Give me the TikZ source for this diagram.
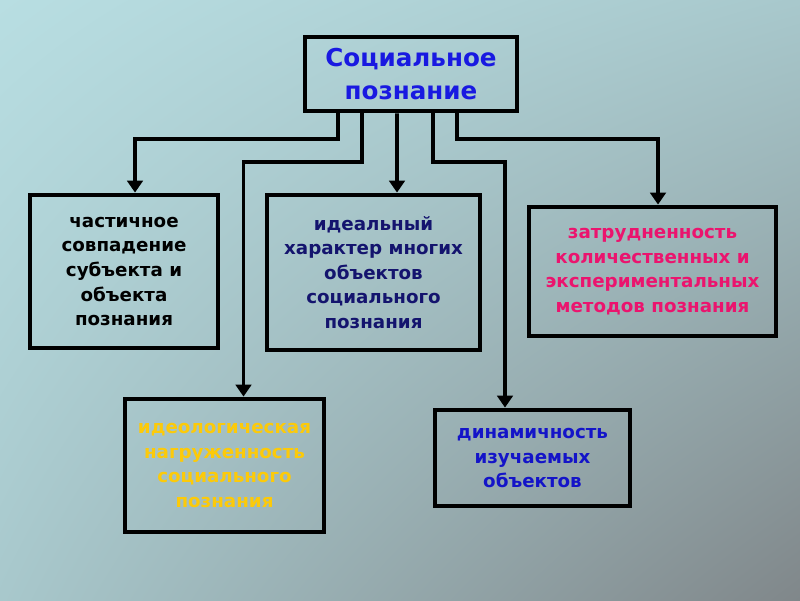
\documentclass[tikz,border=0pt]{standalone}
\usepackage{fontspec}
\setmainfont{DejaVu Sans}
\usetikzlibrary{arrows.meta,shadings}
\definecolor{bgtop}{RGB}{184,222,226}
\definecolor{bgmid}{RGB}{168,200,204}
\definecolor{bgbot}{RGB}{128,135,138}
\definecolor{titleblue}{RGB}{25,25,225}
\definecolor{navy}{RGB}{20,20,110}
\definecolor{rosered}{RGB}{235,20,110}
\definecolor{goldtext}{RGB}{252,202,10}
\definecolor{dynblue}{RGB}{20,20,200}

\begin{document}
\begin{tikzpicture}[x=0.025cm, y=-0.025cm,
	box/.style={draw=black, line width=3.4pt, align=center, inner sep=2pt, font=\bfseries\fontsize{13}{17.5}\selectfont},
	link/.style={line width=2.8pt, -{Triangle[width=0.39cm, length=0.3cm]}}]
	% background
	\shade[upper left=bgtop, upper right=bgmid, lower left=bgmid, lower right=bgbot] (0,0) rectangle (800,600);
	\useasboundingbox (0,0) rectangle (800,600);
	% top box
	\node[box, minimum width=5.3cm, minimum height=1.85cm, text=titleblue, font=\bfseries\fontsize{17.5}{23}\selectfont] (soc) at (411,74) {Социальное\\познание};
	% first row
	\node[box, minimum width=4.7cm, minimum height=3.825cm] (part) at (124,271.5) {частичное\\совпадение\\субъекта и\\объекта\\познания};
	\node[box, minimum width=5.325cm, minimum height=3.875cm, text=navy] (ideal) at (373.5,272.5) {идеальный\\характер многих\\объектов\\социального\\познания};
	\node[box, minimum width=6.175cm, minimum height=3.225cm, text=rosered] (hard) at (652.5,271.5) {затрудненность\\количественных и\\экспериментальных\\методов познания};
	% second row
	\node[box, minimum width=4.975cm, minimum height=3.325cm, text=goldtext] (ideol) at (224.5,465.5) {идеологическая\\нагруженность\\социального\\познания};
	\node[box, minimum width=4.875cm, minimum height=2.4cm, text=dynblue] (dyn) at (532.5,458) {динамичность\\изучаемых\\объектов};
	% connectors
	\draw[link] ([xshift=-1.825cm]soc.south) -- ++(0,26) -| ([xshift=0.275cm]part.north);
	\draw[link] ([xshift=-1.225cm]soc.south) -- ++(0,49) -| ([xshift=0.475cm]ideol.north);
	\draw[link] ([xshift=-0.35cm]soc.south) -- ([xshift=0.5875cm]ideal.north);
	\draw[link] ([xshift=0.55cm]soc.south) -- ++(0,49) -| ([xshift=-0.6875cm]dyn.north);
	\draw[link] ([xshift=1.15cm]soc.south) -- ++(0,26) -| ([xshift=0.1375cm]hard.north);
\end{tikzpicture}
\end{document}
